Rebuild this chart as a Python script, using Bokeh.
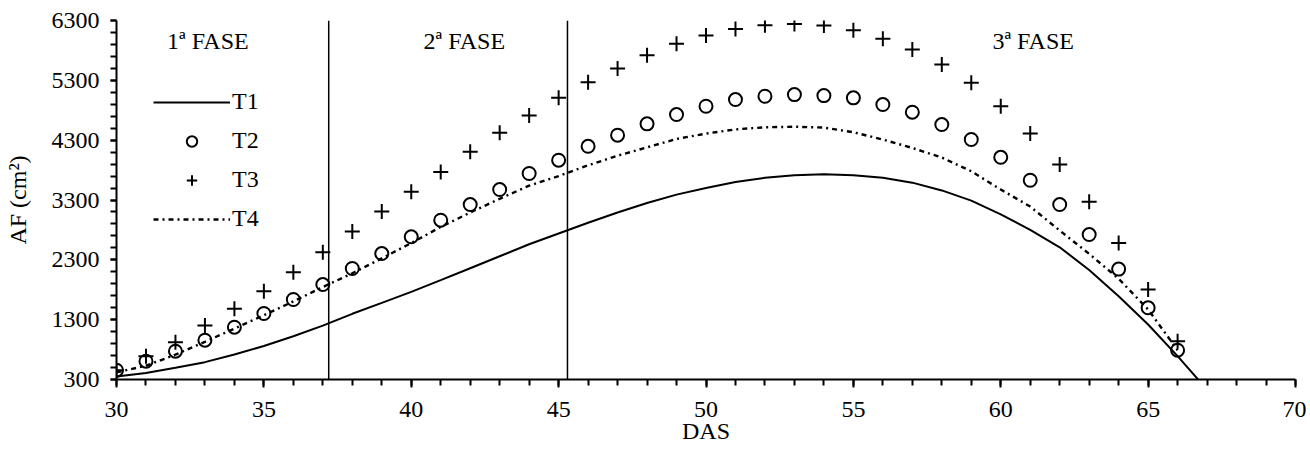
from bokeh.plotting import figure
from bokeh.models import Range1d, Label, Legend, LegendItem, FixedTicker
from bokeh.embed import file_html
from bokeh.resources import INLINE

# ---- data ----
days = list(range(30, 67))
t2 = [455, 606, 773, 957, 1174, 1403, 1637, 1887, 2155, 2405, 2685, 2962, 3224,
      3475, 3743, 3965, 4198, 4383, 4573, 4728, 4867, 4979, 5034, 5062, 5045,
      5007, 4895, 4767, 4561, 4311, 4014, 3630, 3224, 2723, 2145, 1498, 790]
t3 = [455, 690, 923, 1202, 1481, 1776, 2093, 2427, 2773, 3107, 3437, 3770, 4105,
      4422, 4711, 5007, 5268, 5497, 5719, 5910, 6049, 6160, 6221, 6240, 6216,
      6137, 5993, 5814, 5564, 5258, 4867, 4411, 3894, 3270, 2580, 1804, 940]
t1_days = list(range(30, 68))
t1 = [350, 410, 495, 590, 718, 860, 1023, 1200, 1398, 1580, 1765, 1960, 2160,
      2360, 2560, 2740, 2920, 3090, 3250, 3390, 3500, 3600, 3670, 3715, 3730,
      3715, 3670, 3590, 3460, 3290, 3060, 2800, 2510, 2130, 1690, 1220, 690, 130]
t4_days = list(range(30, 67))
t4 = [420, 530, 715, 930, 1150, 1375, 1605, 1845, 2075, 2325, 2580, 2850, 3090,
      3320, 3540, 3700, 3880, 4040, 4180, 4320, 4410, 4480, 4515, 4525, 4510,
      4433, 4310, 4170, 4010, 3780, 3475, 3190, 2790, 2400, 1985, 1470, 790]
phase_bounds = [37.2, 45.3]
y_ticks = [300, 1300, 2300, 3300, 4300, 5300, 6300]
x_ticks = [30, 35, 40, 45, 50, 55, 60, 65, 70]

FONT = "Liberation Serif"
FS = "24px"

p = figure(width=1306, height=446, output_backend="svg", toolbar_location=None,
           x_range=Range1d(30, 70), y_range=Range1d(300, 6300),
           min_border_left=116, min_border_right=11, min_border_top=20,
           min_border_bottom=40)
p.outline_line_color = None
p.grid.visible = False
p.background_fill_color = "white"

# axes
for ax in (p.xaxis[0], p.yaxis[0]):
    ax.axis_line_width = 2
    ax.axis_line_color = "black"
    ax.major_tick_line_width = 2
    ax.minor_tick_line_width = 2
    ax.major_tick_line_color = "black"
    ax.minor_tick_line_color = "black"
    ax.major_tick_in = 0
    ax.minor_tick_in = 0
    ax.major_label_text_font = FONT
    ax.major_label_text_font_size = FS
    ax.major_label_text_color = "black"
    ax.axis_label_text_font = FONT
    ax.axis_label_text_font_size = FS
    ax.axis_label_text_font_style = "normal"
    ax.axis_label_text_color = "black"

p.xaxis.ticker = FixedTicker(ticks=x_ticks, minor_ticks=list(range(30, 71)))
p.yaxis.ticker = FixedTicker(ticks=y_ticks, minor_ticks=list(range(300, 6301, 200)))
p.xaxis.major_tick_out = 8
p.xaxis.minor_tick_out = 6
p.yaxis.major_tick_out = 6
p.yaxis.minor_tick_out = 6
p.xaxis.major_label_standoff = 14
p.yaxis.major_label_standoff = 11
p.xaxis.axis_label = "DAS"
p.xaxis.axis_label_standoff = -2
p.yaxis.axis_label = "AF (cm²)"
p.yaxis.axis_label_standoff = 18

# phase boundaries
p.segment(x0=phase_bounds, x1=phase_bounds, y0=[300] * len(phase_bounds),
          y1=[6300] * len(phase_bounds), line_color="black", line_width=1.5)

# series
r1 = p.line(t1_days, t1, line_color="black", line_width=2)
r2 = p.scatter(days, t2, marker="circle", size=13, fill_color=None,
               line_color="black", line_width=2)
r3 = p.scatter(days, t3, marker="cross", size=15, line_color="black", line_width=2)
r4 = p.line(t4_days, t4, line_color="black", line_width=2.4, line_dash="5 4 2 4")

legend = Legend(items=[LegendItem(label="T1", renderers=[r1]),
                       LegendItem(label="T2", renderers=[r2]),
                       LegendItem(label="T3", renderers=[r3]),
                       LegendItem(label="T4", renderers=[r4])],
                location=(37, 147), orientation="vertical",
                background_fill_alpha=0, border_line_color=None,
                glyph_width=77, glyph_height=26, label_height=26,
                label_standoff=2, spacing=12, padding=0, margin=0,
                label_text_font=FONT, label_text_font_size=FS,
                label_text_color="black")
p.add_layout(legend, "center")

for txt, xx in (("1ª FASE", 33.1), ("2ª FASE", 41.8), ("3ª FASE", 61.1)):
    p.add_layout(Label(x=xx, y=5950, text=txt, text_align="center",
                       text_baseline="middle", text_font=FONT,
                       text_font_size=FS, text_color="black"))

open("out.html", "w").write(file_html(p, INLINE))
